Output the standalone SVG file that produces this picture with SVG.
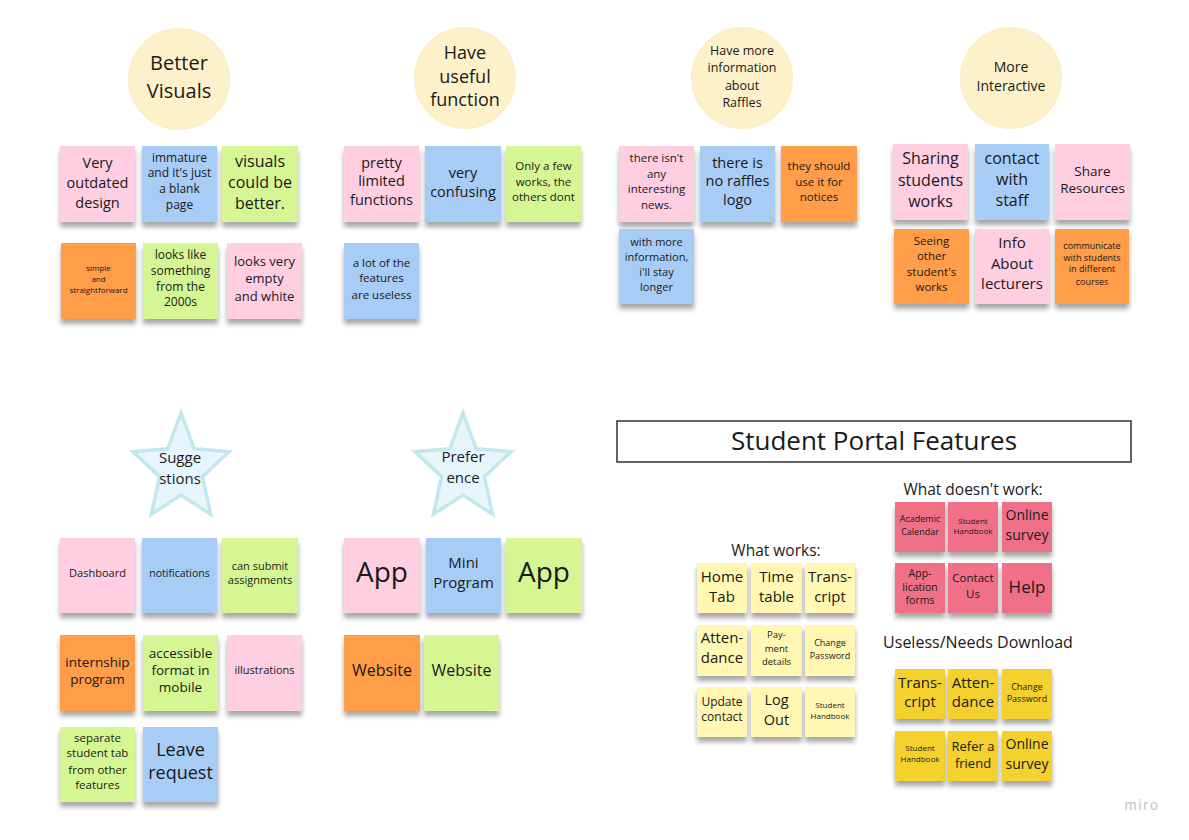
<svg xmlns="http://www.w3.org/2000/svg" width="1189" height="840" viewBox="0 0 1189 840">
<style>
.t{font-family:"Open Sans","Noto Sans",sans-serif;fill:#1a1a1a;text-anchor:middle}
.s{filter:url(#sh)}
.pk{fill:#ffcee0}.bl{fill:#a7ccf5}.gr{fill:#d5f693}.or{fill:#ff9d48}
.ly{fill:#fff7b2}.rd{fill:#ef6f87}.yw{fill:#f5d12e}
.circ{fill:#fdf1c9;stroke:#fdeec6;stroke-width:2}
.star{fill:#e7f6fc;stroke:#c2e7ee;stroke-width:3.5;stroke-linejoin:miter}
</style>
<defs>
<filter id="sh" x="-20%" y="-20%" width="140%" height="160%">
<feGaussianBlur in="SourceAlpha" stdDeviation="2.5"/>
<feOffset dy="5" result="o"/>
<feComponentTransfer><feFuncA type="linear" slope="0.35"/></feComponentTransfer>
<feMerge><feMergeNode/><feMergeNode in="SourceGraphic"/></feMerge>
</filter>
<polygon id="starshape" points="0,-56 13.2,-20.2 48,-17.3 21.4,7.7 29.6,45.3 0,26 -29.6,45.3 -21.4,7.7 -48,-17.3 -13.2,-20.2"/>
</defs>
<rect width="1189" height="840" fill="#ffffff"/>
<g id="connectors"/>

<!-- Better Visuals -->
<g id="better-visuals"><circle class="circ" cx="179" cy="79" r="50"/><text class="t" font-size="20"><tspan x="179" y="70">Better</tspan><tspan x="179" y="98">Visuals</tspan></text></g>
<g id="bv1"><rect class="s pk" x="60" y="146" width="75" height="76"/><text class="t" font-size="14.5"><tspan x="97.5" y="168">Very</tspan><tspan x="97.5" y="187.8">outdated</tspan><tspan x="97.5" y="207.6">design</tspan></text></g>
<g id="bv2"><rect class="s bl" x="142" y="146" width="75" height="76"/><text class="t" font-size="12"><tspan x="179.5" y="162.2">immature</tspan><tspan x="179.5" y="177.2">and it's just</tspan><tspan x="179.5" y="193.2">a blank</tspan><tspan x="179.5" y="209.2">page</tspan></text></g>
<g id="bv3"><rect class="s gr" x="222" y="146" width="76" height="76"/><text class="t" font-size="16"><tspan x="260" y="166.6">visuals</tspan><tspan x="260" y="187.6">could be</tspan><tspan x="260" y="208.6">better.</tspan></text></g>
<g id="bv4"><rect class="s or" x="61" y="243" width="75" height="76"/><text class="t" font-size="8"><tspan x="98.5" y="270.8">simple</tspan><tspan x="98.5" y="281.8">and</tspan><tspan x="98.5" y="292.8">straightforward</tspan></text></g>
<g id="bv5"><rect class="s gr" x="143" y="243" width="75" height="76"/><text class="t" font-size="12"><tspan x="180.5" y="259.2">looks like</tspan><tspan x="180.5" y="275.2">something</tspan><tspan x="180.5" y="291.2">from the</tspan><tspan x="180.5" y="306.2">2000s</tspan></text></g>
<g id="bv6"><rect class="s pk" x="227" y="243" width="75" height="76"/><text class="t" font-size="13"><tspan x="264.5" y="265.5">looks very</tspan><tspan x="264.5" y="282.5">empty</tspan><tspan x="264.5" y="300.5">and white</tspan></text></g>

<!-- Useful function -->
<g id="useful-function"><circle class="circ" cx="465" cy="78" r="50"/><text class="t" font-size="18"><tspan x="465" y="59.3">Have</tspan><tspan x="465" y="83.3">useful</tspan><tspan x="465" y="106.3">function</tspan></text></g>
<g id="uf1"><rect class="s pk" x="344" y="146" width="75" height="76"/><text class="t" font-size="14.5"><tspan x="381.5" y="168.1">pretty</tspan><tspan x="381.5" y="186.1">limited</tspan><tspan x="381.5" y="205.1">functions</tspan></text></g>
<g id="uf2"><rect class="s bl" x="425" y="146" width="76" height="76"/><text class="t" font-size="14.5"><tspan x="463" y="178.1">very</tspan><tspan x="463" y="197.1">confusing</tspan></text></g>
<g id="uf3"><rect class="s gr" x="506" y="146" width="75" height="76"/><text class="t" font-size="11.5"><tspan x="543.5" y="170">Only a few</tspan><tspan x="543.5" y="186">works, the</tspan><tspan x="543.5" y="201">others dont</tspan></text></g>
<g id="uf4"><rect class="s bl" x="344" y="243" width="75" height="76"/><text class="t" font-size="11.5"><tspan x="381.5" y="267">a lot of the</tspan><tspan x="381.5" y="282">features</tspan><tspan x="381.5" y="299">are useless</tspan></text></g>

<!-- Raffles -->
<g id="more-info"><circle class="circ" cx="742" cy="78" r="50"/><text class="t" font-size="12.5"><tspan x="742" y="55.4">Have more</tspan><tspan x="742" y="72.4">information</tspan><tspan x="742" y="90.4">about</tspan><tspan x="742" y="107.4">Raffles</tspan></text></g>
<g id="rf1"><rect class="s pk" x="619" y="146" width="75" height="76"/><text class="t" font-size="11.5"><tspan x="656.5" y="162">there isn't</tspan><tspan x="656.5" y="178">any</tspan><tspan x="656.5" y="193">interesting</tspan><tspan x="656.5" y="209">news.</tspan></text></g>
<g id="rf2"><rect class="s bl" x="700" y="146" width="75" height="76"/><text class="t" font-size="14.5"><tspan x="737.5" y="168.1">there is</tspan><tspan x="737.5" y="186.1">no raffles</tspan><tspan x="737.5" y="205.1">logo</tspan></text></g>
<g id="rf3"><rect class="s or" x="781" y="146" width="76" height="76"/><text class="t" font-size="11.5"><tspan x="819" y="170">they should</tspan><tspan x="819" y="186">use it for</tspan><tspan x="819" y="201">notices</tspan></text></g>
<g id="rf4"><rect class="s bl" x="619" y="229" width="75" height="75"/><text class="t" font-size="11"><tspan x="656.5" y="245.9">with more</tspan><tspan x="656.5" y="260.9">information,</tspan><tspan x="656.5" y="275.9">i'll stay</tspan><tspan x="656.5" y="290.9">longer</tspan></text></g>

<!-- More Interactive -->
<g id="more-interactive"><circle class="circ" cx="1011" cy="78" r="50"/><text class="t" font-size="14"><tspan x="1011" y="71.9">More</tspan><tspan x="1011" y="90.9">Interactive</tspan></text></g>
<g id="mi1"><rect class="s pk" x="893" y="144" width="75" height="76"/><text class="t" font-size="16"><tspan x="930.5" y="163.6">Sharing</tspan><tspan x="930.5" y="185.6">students</tspan><tspan x="930.5" y="206.6">works</tspan></text></g>
<g id="mi2"><rect class="s bl" x="975" y="144" width="74" height="76"/><text class="t" font-size="16"><tspan x="1012" y="163.6">contact</tspan><tspan x="1012" y="184.6">with</tspan><tspan x="1012" y="205.6">staff</tspan></text></g>
<g id="mi3"><rect class="s pk" x="1055" y="144" width="75" height="76"/><text class="t" font-size="13.5"><tspan x="1092.5" y="175.7">Share</tspan><tspan x="1092.5" y="192.7">Resources</tspan></text></g>
<g id="mi4"><rect class="s or" x="894" y="229" width="75" height="75"/><text class="t" font-size="11.5"><tspan x="931.5" y="245">Seeing</tspan><tspan x="931.5" y="260">other</tspan><tspan x="931.5" y="276">student's</tspan><tspan x="931.5" y="291">works</tspan></text></g>
<g id="mi5"><rect class="s pk" x="975" y="229" width="74" height="75"/><text class="t" font-size="15"><tspan x="1012" y="248.3">Info</tspan><tspan x="1012" y="269.3">About</tspan><tspan x="1012" y="289.3">lecturers</tspan></text></g>
<g id="mi6"><rect class="s or" x="1055" y="229" width="74" height="75"/><text class="t" font-size="9"><tspan x="1092" y="249.2">communicate</tspan><tspan x="1092" y="261.2">with  students</tspan><tspan x="1092" y="272.2">in different</tspan><tspan x="1092" y="285.2">courses</tspan></text></g>

<!-- Suggestions -->
<g id="suggestions"><use href="#starshape" class="star" transform="translate(181,469)"/><text class="t" font-size="15"><tspan x="180" y="463.3">Sugge</tspan><tspan x="180" y="484.3">stions</tspan></text></g>
<g id="s1"><rect class="s pk" x="60" y="538" width="75" height="75"/><text class="t" font-size="11"><tspan x="97.5" y="576.9">Dashboard</tspan></text></g>
<g id="s2"><rect class="s bl" x="142" y="538" width="75" height="75"/><text class="t" font-size="10.5"><tspan x="179.5" y="576.7">notifications</tspan></text></g>
<g id="s3"><rect class="s gr" x="222" y="538" width="76" height="75"/><text class="t" font-size="11"><tspan x="260" y="569.9">can submit</tspan><tspan x="260" y="583.9">assignments</tspan></text></g>
<g id="s4"><rect class="s or" x="60" y="635" width="75" height="76"/><text class="t" font-size="13.5"><tspan x="97.5" y="666.7">internship</tspan><tspan x="97.5" y="683.7">program</tspan></text></g>
<g id="s5"><rect class="s gr" x="143" y="635" width="75" height="76"/><text class="t" font-size="13.5"><tspan x="180.5" y="657.7">accessible</tspan><tspan x="180.5" y="674.7">format in</tspan><tspan x="180.5" y="691.7">mobile</tspan></text></g>
<g id="s6"><rect class="s pk" x="227" y="635" width="75" height="76"/><text class="t" font-size="11"><tspan x="264.5" y="673.9">illustrations</tspan></text></g>
<g id="s7"><rect class="s gr" x="60" y="727" width="75" height="75"/><text class="t" font-size="11.5"><tspan x="97.5" y="742">separate</tspan><tspan x="97.5" y="757">student tab</tspan><tspan x="97.5" y="774">from other</tspan><tspan x="97.5" y="789">features</tspan></text></g>
<g id="s8"><rect class="s bl" x="143" y="727" width="75" height="75"/><text class="t" font-size="18"><tspan x="180.5" y="756.3">Leave</tspan><tspan x="180.5" y="779.3">request</tspan></text></g>

<!-- Preference -->
<g id="preference"><use href="#starshape" class="star" transform="translate(463,469)"/><text class="t" font-size="15"><tspan x="463" y="462.3">Prefer</tspan><tspan x="463" y="483.3">ence</tspan></text></g>
<g id="p1"><rect class="s pk" x="344" y="538" width="76" height="75"/><text class="t" font-size="28"><tspan x="382" y="582">App</tspan></text></g>
<g id="p2"><rect class="s bl" x="426" y="538" width="75" height="75"/><text class="t" font-size="15"><tspan x="463.5" y="568.3">Mini</tspan><tspan x="463.5" y="588.3">Program</tspan></text></g>
<g id="p3"><rect class="s gr" x="506" y="538" width="76" height="75"/><text class="t" font-size="28"><tspan x="544" y="582">App</tspan></text></g>
<g id="p4"><rect class="s or" x="344" y="635" width="76" height="76"/><text class="t" font-size="16"><tspan x="382" y="675.6">Website</tspan></text></g>
<g id="p5"><rect class="s gr" x="424" y="635" width="75" height="76"/><text class="t" font-size="16"><tspan x="461.5" y="675.6">Website</tspan></text></g>

<!-- Title -->
<g id="title"><rect x="617" y="421" width="514" height="41" fill="#ffffff" stroke="#333333" stroke-width="1.5"/><text class="t" font-size="26" x="874" y="449.5">Student Portal Features</text></g>

<!-- What works -->
<g id="what-works-label"><text class="t" font-size="15.5" x="776" y="555.5">What works:</text></g>
<g id="ww1"><rect class="s ly" x="697" y="563" width="50" height="50"/><text class="t" font-size="15"><tspan x="722" y="582.3">Home</tspan><tspan x="722" y="602.3">Tab</tspan></text></g>
<g id="ww2"><rect class="s ly" x="751" y="563" width="51" height="50"/><text class="t" font-size="15"><tspan x="776.5" y="582.3">Time</tspan><tspan x="776.5" y="602.3">table</tspan></text></g>
<g id="ww3"><rect class="s ly" x="805" y="563" width="50" height="50"/><text class="t" font-size="15"><tspan x="830" y="582.3">Trans-</tspan><tspan x="830" y="602.3">cript</tspan></text></g>
<g id="ww4"><rect class="s ly" x="697" y="625" width="50" height="51"/><text class="t" font-size="15"><tspan x="722" y="643.3">Atten-</tspan><tspan x="722" y="663.3">dance</tspan></text></g>
<g id="ww5"><rect class="s ly" x="751" y="625" width="51" height="51"/><text class="t" font-size="9.5"><tspan x="776.5" y="638.3">Pay-</tspan><tspan x="776.5" y="652.3">ment</tspan><tspan x="776.5" y="665.3">details</tspan></text></g>
<g id="ww6"><rect class="s ly" x="805" y="625" width="50" height="51"/><text class="t" font-size="9"><tspan x="830" y="646.2">Change</tspan><tspan x="830" y="659.2">Password</tspan></text></g>
<g id="ww7"><rect class="s ly" x="697" y="687" width="50" height="50"/><text class="t" font-size="12"><tspan x="722" y="706.2">Update</tspan><tspan x="722" y="721.2">contact</tspan></text></g>
<g id="ww8"><rect class="s ly" x="751" y="687" width="51" height="50"/><text class="t" font-size="14.5"><tspan x="776.5" y="704.8">Log</tspan><tspan x="776.5" y="724.8">Out</tspan></text></g>
<g id="ww9"><rect class="s ly" x="805" y="687" width="50" height="50"/><text class="t" font-size="8"><tspan x="830" y="707.8">Student</tspan><tspan x="830" y="718.8">Handbook</tspan></text></g>

<!-- What doesn't work -->
<g id="what-doesnt-label"><text class="t" font-size="15.5" x="973" y="494.5">What doesn't work:</text></g>
<g id="wd1"><rect class="s rd" x="895" y="502" width="50" height="50"/><text class="t" font-size="9"><tspan x="920" y="522.2">Academic</tspan><tspan x="920" y="535.2">Calendar</tspan></text></g>
<g id="wd2"><rect class="s rd" x="948" y="502" width="50" height="50"/><text class="t" font-size="8"><tspan x="973" y="523.8">Student</tspan><tspan x="973" y="533.8">Handbook</tspan></text></g>
<g id="wd3"><rect class="s rd" x="1002" y="502" width="50" height="50"/><text class="t" font-size="14"><tspan x="1027" y="519.9">Online</tspan><tspan x="1027" y="539.9">survey</tspan></text></g>
<g id="wd4"><rect class="s rd" x="895" y="563" width="50" height="50"/><text class="t" font-size="10.5"><tspan x="920" y="576.7">App-</tspan><tspan x="920" y="590.7">lication</tspan><tspan x="920" y="603.7">forms</tspan></text></g>
<g id="wd5"><rect class="s rd" x="948" y="563" width="50" height="50"/><text class="t" font-size="11.5"><tspan x="973" y="582">Contact</tspan><tspan x="973" y="598">Us</tspan></text></g>
<g id="wd6"><rect class="s rd" x="1002" y="563" width="50" height="50"/><text class="t" font-size="17"><tspan x="1027" y="593">Help</tspan></text></g>

<!-- Useless / Needs Download -->
<g id="useless-label"><text class="t" font-size="16" x="978" y="648">Useless/Needs Download</text></g>
<g id="ud1"><rect class="s yw" x="895" y="669" width="50" height="50"/><text class="t" font-size="15"><tspan x="920" y="688.3">Trans-</tspan><tspan x="920" y="707.3">cript</tspan></text></g>
<g id="ud2"><rect class="s yw" x="948" y="669" width="50" height="50"/><text class="t" font-size="15"><tspan x="973" y="688.3">Atten-</tspan><tspan x="973" y="707.3">dance</tspan></text></g>
<g id="ud3"><rect class="s yw" x="1002" y="669" width="50" height="50"/><text class="t" font-size="9"><tspan x="1027" y="690.2">Change</tspan><tspan x="1027" y="702.2">Password</tspan></text></g>
<g id="ud4"><rect class="s yw" x="895" y="731" width="50" height="50"/><text class="t" font-size="8"><tspan x="920" y="750.8">Student</tspan><tspan x="920" y="761.8">Handbook</tspan></text></g>
<g id="ud5"><rect class="s yw" x="948" y="731" width="50" height="50"/><text class="t" font-size="13"><tspan x="973" y="750.5">Refer a</tspan><tspan x="973" y="767.5">friend</tspan></text></g>
<g id="ud6"><rect class="s yw" x="1002" y="731" width="50" height="50"/><text class="t" font-size="14"><tspan x="1027" y="748.9">Online</tspan><tspan x="1027" y="768.9">survey</tspan></text></g>

<g id="logo"><text x="1142" y="810" font-family="Inter,'Open Sans',sans-serif" font-size="14" fill="#c4c4cc" text-anchor="middle" letter-spacing="1.5">miro</text></g>
</svg>
